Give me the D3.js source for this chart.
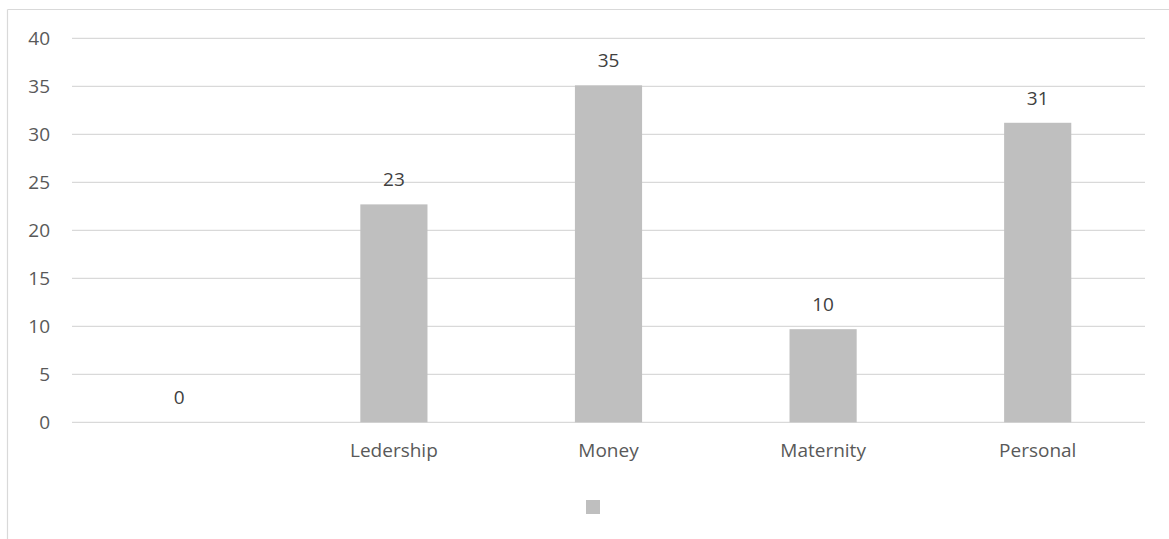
<!DOCTYPE html>
<html>
<head>
<meta charset="utf-8">
<script src="https://cdn.jsdelivr.net/npm/d3@7"></script>
<style>
  body { margin: 0; background: #fff; }
  svg { display: block; font-family: "Open Sans", sans-serif; }
</style>
</head>
<body>
<div id="chart"></div>
<script>
// categorias y valores
const categorias = ["", "Ledership", "Money", "Maternity", "Personal"];
const valores = [0, 22.7, 35.1, 9.7, 31.2];
const etiquetas = ["0", "23", "35", "10", "31"];
const yTicks = [0, 5, 10, 15, 20, 25, 30, 35, 40];

const width = 1169;
const height = 539;
const margin = { top: 38.3, right: 24, bottom: 116.7, left: 72 };

const svg = d3.select("#chart")
    .append("svg")
    .attr("width", width)
    .attr("height", height);

// marco del grafico (solo arriba e izquierda visibles)
svg.append("line")
    .attr("x1", 7.5).attr("x2", width)
    .attr("y1", 9.5).attr("y2", 9.5)
    .attr("stroke", "#d9d9d9").attr("stroke-width", 1.2);
svg.append("line")
    .attr("x1", 7.5).attr("x2", 7.5)
    .attr("y1", 9.5).attr("y2", height)
    .attr("stroke", "#d9d9d9").attr("stroke-width", 1.2);

const x = d3.scaleBand()
    .domain(categorias)
    .range([margin.left, width - margin.right]);

const y = d3.scaleLinear()
    .domain([0, 40])
    .range([height - margin.bottom, margin.top]);

const barW = x.bandwidth() * 0.313;

// lineas de cuadricula
svg.append("g")
    .selectAll("line")
    .data(yTicks)
    .join("line")
    .attr("x1", margin.left)
    .attr("x2", width - margin.right)
    .attr("y1", d => y(d))
    .attr("y2", d => y(d))
    .attr("stroke", "#d9d9d9")
    .attr("stroke-width", 1.3);

// eje Y
const yAxis = g => g
    .attr("transform", `translate(${margin.left},0)`)
    .call(d3.axisLeft(y).tickValues(yTicks).tickSize(0).tickPadding(22))
    .call(g => g.select(".domain").remove())
    .call(g => g.selectAll("text")
        .attr("fill", "#595959")
        .attr("font-size", 19)
        .attr("font-family", "Open Sans, sans-serif"));
svg.append("g").call(yAxis);

// barras
svg.append("g")
    .selectAll("rect")
    .data(valores)
    .join("rect")
    .attr("x", (d, i) => x(categorias[i]) + x.bandwidth() / 2 - barW / 2)
    .attr("width", barW)
    .attr("y", d => y(d))
    .attr("height", d => y(0) - y(d))
    .attr("fill", "#bfbfbf");

// etiquetas de datos
svg.append("g")
    .selectAll("text")
    .data(valores)
    .join("text")
    .attr("x", (d, i) => x(categorias[i]) + x.bandwidth() / 2)
    .attr("y", d => y(d) - 18)
    .attr("text-anchor", "middle")
    .attr("fill", "#404040")
    .attr("font-size", 19)
    .text((d, i) => etiquetas[i]);

// eje X
const xAxis = g => g
    .attr("transform", `translate(0,${y(0)})`)
    .call(d3.axisBottom(x).tickSize(0).tickPadding(21))
    .call(g => g.select(".domain").remove())
    .call(g => g.selectAll("text")
        .attr("fill", "#595959")
        .attr("font-size", 19)
        .attr("font-family", "Open Sans, sans-serif"));
svg.append("g").call(xAxis);

// leyenda (serie sin nombre)
svg.append("rect")
    .attr("x", 586)
    .attr("y", 500)
    .attr("width", 14)
    .attr("height", 14)
    .attr("fill", "#bfbfbf");
</script>
</body>
</html>
